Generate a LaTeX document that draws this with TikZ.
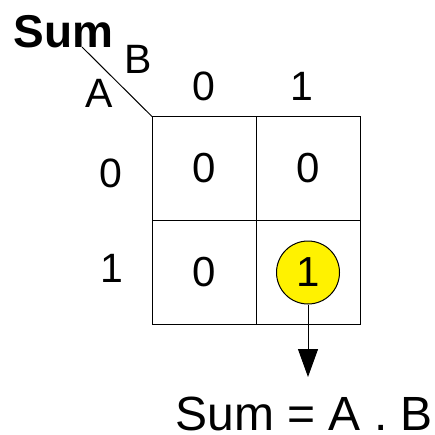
\documentclass[tikz,border=0pt]{standalone}
\usepackage{fontspec}
\setmainfont{Liberation Sans}
\usetikzlibrary{positioning,arrows.meta}

\begin{document}
\begin{tikzpicture}[x=1pt,y=1pt,line width=1pt,
  cell/.style={draw,minimum size=104pt,inner sep=0pt,outer sep=0pt,font=\fontsize{42}{42}\selectfont},
  lbl/.style={anchor=base,inner sep=0pt,font=\fontsize{41}{41}\selectfont}]
  \useasboundingbox (0,0) rectangle (435,-434);
  % the map
  \node[cell] (c00) at (204,-168.5) {0};
  \node[cell,right=0pt of c00] (c01) {0};
  \node[cell,below=0pt of c00] (c10) {0};
  \node[cell,right=0pt of c10] (c11) {};
  \node[circle,draw,fill=yellow,minimum size=63pt,inner sep=0pt,font=\fontsize{42}{42}\selectfont] (one) at (c11.center) {1};
  % heading and variables
  \node[anchor=base west,inner sep=0pt,font=\fontsize{46}{46}\selectfont\bfseries] (title) at (13,-47) {Sum};
  \coordinate (slash) at (82,-47);
  \draw (slash) -- (c00.north west);
  \node[lbl,anchor=base west] (varB) at (124,-73) {B};
  \node[lbl,anchor=base west] (varA) at (85,-107) {A};
  \node[lbl] (colB0) at (204,-100) {0};
  \node[lbl] (colB1) at (302,-100) {1};
  \node[lbl] (rowA0) at (111,-187) {0};
  \node[lbl] (rowA1) at (112,-282) {1};
  % result
  \coordinate (tip) at (308,-377);
  \draw[-{Triangle[length=28pt,width=20pt]}] (one) -- (tip);
  \node[anchor=base west,inner sep=0pt,font=\fontsize{48}{48}\selectfont] (res) at (175,-430) {Sum = A . B};
\end{tikzpicture}
\end{document}
